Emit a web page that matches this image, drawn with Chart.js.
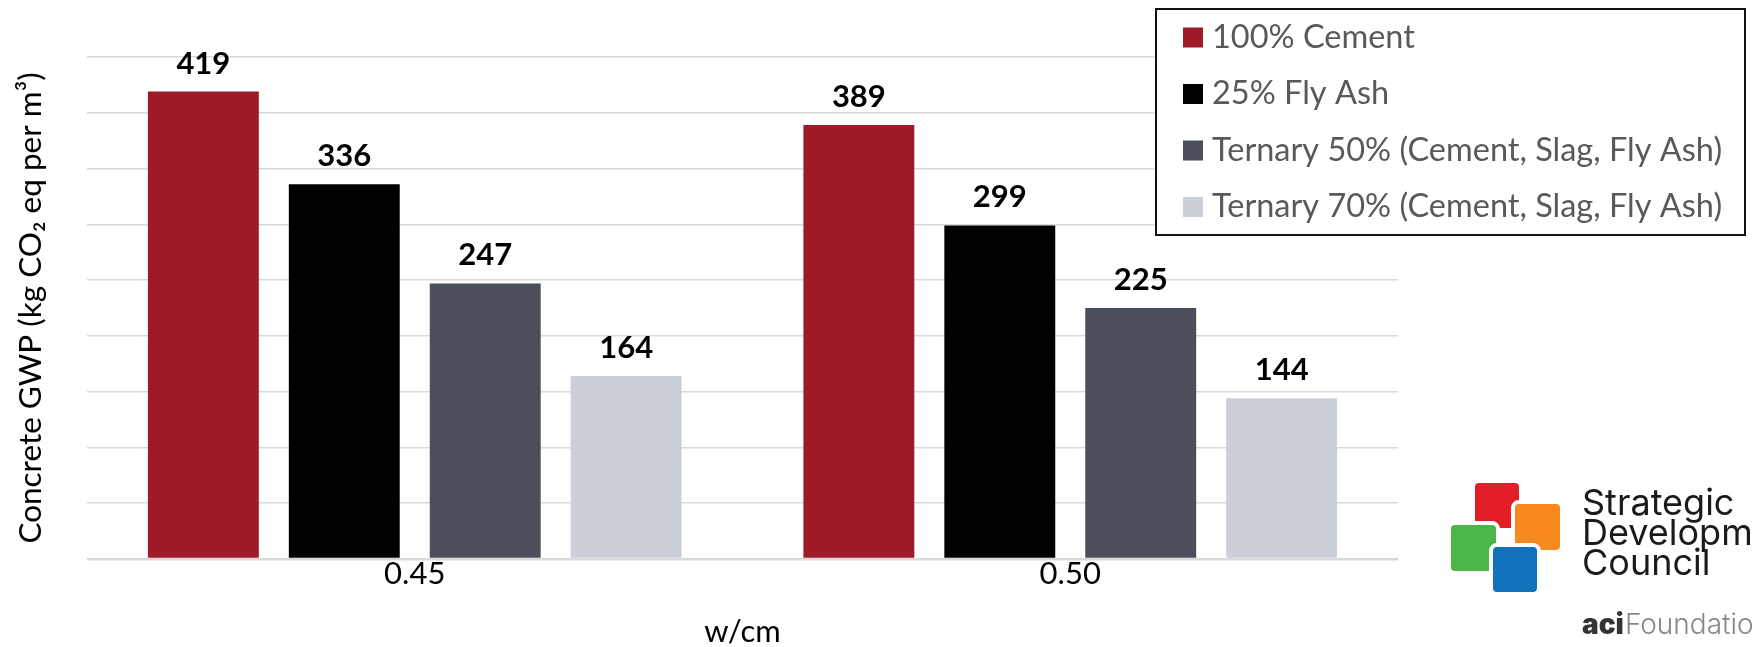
<!DOCTYPE html>
<html>
<head>
<meta charset="utf-8">
<script src="https://cdn.jsdelivr.net/npm/chart.js@4.4.1/dist/chart.umd.min.js"></script>
<style>
  html, body { margin: 0; padding: 0; background: #fff; }
  #wrap { width: 1752px; height: 647px; }
</style>
</head>
<body>
<div id="wrap"><canvas id="gwpChart" width="1752" height="647"></canvas></div>
<script>
// chart data
var categories = ["0.45", "0.50"];
var seriesNames = [
  "100% Cement",
  "25% Fly Ash",
  "Ternary 50% (Cement, Slag, Fly Ash)",
  "Ternary 70% (Cement, Slag, Fly Ash)"
];
var cement100 = [419, 389];
var flyAsh25 = [336, 299];
var ternary50 = [247, 225];
var ternary70 = [164, 144];
var seriesColors = ["#9E1A27", "#000000", "#4A4F5B", "#CBD0D8"];
var yTicks = { min: 0, max: 450, step: 50 };

var FONT = "Lato, 'Open Sans', sans-serif";

// value labels above each bar
var barLabels = {
  id: "barLabels",
  afterDatasetsDraw: function (chart) {
    var ctx = chart.ctx;
    ctx.save();
    ctx.font = "bold 31px " + FONT;
    ctx.fillStyle = "#000";
    ctx.textAlign = "center";
    ctx.textBaseline = "middle";
    chart.data.datasets.forEach(function (ds, i) {
      chart.getDatasetMeta(i).data.forEach(function (bar, j) {
        ctx.fillText(ds.data[j], bar.x, bar.y - 28);
      });
    });
    ctx.restore();
  }
};

// boxed legend in the top right corner
var boxLegend = {
  id: "boxLegend",
  afterDraw: function (chart) {
    var ctx = chart.ctx;
    ctx.save();
    ctx.fillStyle = "#fff";
    ctx.fillRect(1156, 9, 589, 226);
    ctx.strokeStyle = "#111";
    ctx.lineWidth = 2;
    ctx.strokeRect(1156, 9, 589, 226);
    ctx.font = "32.5px " + FONT;
    ctx.textBaseline = "middle";
    chart.data.datasets.forEach(function (ds, i) {
      var y = 37.5 + i * 56.5;
      ctx.fillStyle = ds.backgroundColor;
      ctx.fillRect(1183, y - 10, 20, 20);
      ctx.fillStyle = "#595959";
      ctx.fillText(ds.label, 1212, y);
    });
    ctx.restore();
  }
};

// Strategic Development Council / aci Foundation logo
function roundRect(ctx, x, y, w, h, r) {
  ctx.beginPath();
  ctx.moveTo(x + r, y);
  ctx.arcTo(x + w, y, x + w, y + h, r);
  ctx.arcTo(x + w, y + h, x, y + h, r);
  ctx.arcTo(x, y + h, x, y, r);
  ctx.arcTo(x, y, x + w, y, r);
  ctx.closePath();
}
var logo = {
  id: "logo",
  afterDraw: function (chart) {
    var ctx = chart.ctx;
    ctx.save();
    var tiles = [
      ["#E31E26", 1473, 481, 48, 49],
      ["#F7891F", 1513, 502, 49, 50],
      ["#4CB748", 1449, 523, 49, 50],
      ["#0F72BB", 1491, 545, 48, 49]
    ];
    tiles.forEach(function (t) {
      roundRect(ctx, t[1], t[2], t[3], t[4], 6);
      ctx.fillStyle = t[0];
      ctx.fill();
      ctx.lineWidth = 4;
      ctx.strokeStyle = "#fff";
      ctx.stroke();
    });
    ctx.fillStyle = "#1a1a1a";
    ctx.font = "36px Inter, 'Noto Sans', sans-serif";
    ctx.textBaseline = "alphabetic";
    ctx.fillText("Strategic", 1582, 515);
    ctx.fillText("Development", 1582, 545);
    ctx.fillText("Council", 1582, 575);
    ctx.font = "900 28px Inter, 'Noto Sans', sans-serif";
    ctx.fillStyle = "#333";
    ctx.fillText("aci", 1582, 634);
    var w = ctx.measureText("aci").width;
    ctx.font = "300 28px Inter, 'Noto Sans', sans-serif";
    ctx.fillStyle = "#888";
    ctx.fillText("Foundation", 1583 + w, 634);
    ctx.restore();
  }
};

var datasets = [cement100, flyAsh25, ternary50, ternary70].map(function (vals, i) {
  return {
    label: seriesNames[i],
    data: vals,
    backgroundColor: seriesColors[i],
    borderWidth: 0,
    categoryPercentage: 0.86,
    barPercentage: 0.787
  };
});

var ctx = document.getElementById("gwpChart").getContext("2d");
var myChart = new Chart(ctx, {
  type: "bar",
  data: {
    labels: categories,
    datasets: datasets
  },
  options: {
    responsive: false,
    animation: false,
    layout: { padding: { top: 57, right: 354, bottom: 0, left: 0 } },
    plugins: {
      legend: { display: false },
      tooltip: { enabled: false }
    },
    scales: {
      x: {
        grid: { display: false },
        border: { display: false },
        ticks: {
          color: "#000",
          padding: -9,
          font: { family: FONT, size: 31, lineHeight: 1 }
        },
        title: {
          display: true,
          text: "w/cm",
          color: "#000",
          padding: 0,
          font: { family: FONT, size: 31, lineHeight: 1 }
        },
        afterFit: function (scale) { scale.height = 88; }
      },
      y: {
        min: yTicks.min,
        max: yTicks.max,
        ticks: { display: false, stepSize: yTicks.step },
        border: { display: false },
        grid: {
          drawTicks: false,
          color: "#D9D9D9",
          lineWidth: function (c) { return c.tick && c.tick.value === 0 ? 2.5 : 1.5; }
        },
        title: {
          display: true,
          text: "Concrete GWP (kg CO\u2082 eq per m\u00B3)",
          color: "#000",
          padding: { top: 15, bottom: 0 },
          font: { family: FONT, size: 31.5, lineHeight: 1 }
        },
        afterFit: function (scale) { scale.width = 87; }
      }
    }
  },
  plugins: [barLabels, boxLegend, logo]
});
</script>
</body>
</html>
